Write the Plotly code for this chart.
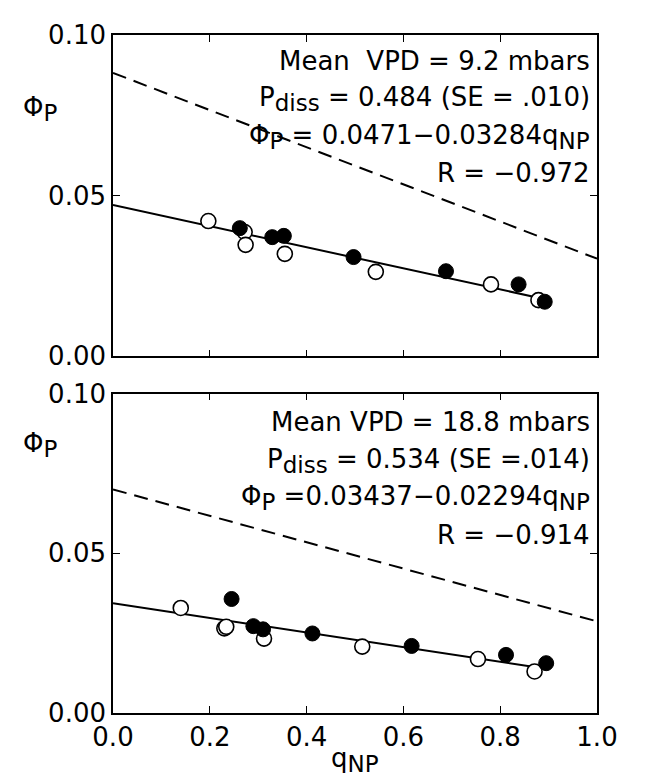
import plotly.graph_objects as go
from plotly.subplots import make_subplots

# ---------------- data ----------------
# Top panel (Mean VPD = 9.2 mbars)
top_open_x = [0.197, 0.272, 0.274, 0.355, 0.543, 0.781, 0.879]
top_open_y = [0.0421, 0.0387, 0.0347, 0.0319, 0.0263, 0.0224, 0.0175]
top_fill_x = [0.262, 0.329, 0.353, 0.497, 0.688, 0.838, 0.892]
top_fill_y = [0.0399, 0.0371, 0.0375, 0.0309, 0.0265, 0.0224, 0.0170]
top_fit = (0.0471, -0.03284)       # intercept, slope
top_fit_x = [0.0, 0.89]
top_dash_x = [0.0, 1.0]
top_dash_y = [0.0882, 0.0304]

# Bottom panel (Mean VPD = 18.8 mbars)
bot_open_x = [0.140, 0.230, 0.234, 0.312, 0.515, 0.754, 0.871]
bot_open_y = [0.0329, 0.0265, 0.0270, 0.0233, 0.0208, 0.0169, 0.0130]
bot_fill_x = [0.245, 0.290, 0.310, 0.412, 0.617, 0.812, 0.895]
bot_fill_y = [0.0357, 0.0272, 0.0262, 0.0249, 0.0210, 0.0182, 0.0156]
bot_fit = (0.03437, -0.02294)
bot_fit_x = [0.0, 0.895]
bot_dash_x = [0.0, 1.0]
bot_dash_y = [0.0700, 0.0287]

x_ticks = [0.0, 0.2, 0.4, 0.6, 0.8, 1.0]
x_ticklabels = ["0.0", "0.2", "0.4", "0.6", "0.8", "1.0"]
y_ticks = [0.0, 0.05, 0.10]
y_ticklabels = ["0.00", "0.05", "0.10"]

SUB = "<sub><span style='font-size:23px'>{}</span></sub>"
top_text = [
    "Mean  VPD = 9.2 mbars",
    "P" + SUB.format("diss") + " = 0.484 (SE = .010)",
    "Φ" + SUB.format("P") + " = 0.0471−0.03284q" + SUB.format("NP"),
    "R = −0.972",
]
bot_text = [
    "Mean VPD = 18.8 mbars",
    "P" + SUB.format("diss") + " = 0.534 (SE =.014)",
    "Φ" + SUB.format("P") + " =0.03437−0.02294q" + SUB.format("NP"),
    "R = −0.914",
]
top_text_y = [0.0920, 0.0802, 0.0684, 0.0570]
bot_text_y = [0.0910, 0.0790, 0.0672, 0.0556]
ylabel_y = [0.0770, 0.0840]

# ---------------- figure ----------------
FONT = "DejaVu Sans"
FS = 26
fig = make_subplots(rows=2, cols=1, vertical_spacing=0.0)

def add_panel(row, ox, oy, fx, fy, fit, fit_x, dx, dy, texts, ty, lab_y):
    yref = "y" if row == 1 else "y2"
    xref = "x" if row == 1 else "x2"
    fig.add_trace(go.Scatter(x=dx, y=dy, mode="lines",
                             line=dict(color="black", width=2, dash="14px,8px"),
                             showlegend=False, hoverinfo="skip"), row=row, col=1)
    fig.add_trace(go.Scatter(x=fit_x, y=[fit[0] + fit[1] * v for v in fit_x],
                             mode="lines", line=dict(color="black", width=2),
                             showlegend=False, hoverinfo="skip"), row=row, col=1)
    fig.add_trace(go.Scatter(x=ox, y=oy, mode="markers",
                             marker=dict(size=15, color="white",
                                         line=dict(color="black", width=1.6)),
                             showlegend=False), row=row, col=1)
    fig.add_trace(go.Scatter(x=fx, y=fy, mode="markers",
                             marker=dict(size=15, color="black",
                                         line=dict(color="black", width=1)),
                             showlegend=False), row=row, col=1)
    for t, yv in zip(texts, ty):
        fig.add_annotation(x=0.99, y=yv, xref=xref, yref=yref, text=t,
                           showarrow=False, xanchor="right", yanchor="middle",
                           font=dict(family=FONT, size=FS, color="black"))
    # horizontal y-axis label
    fig.add_annotation(x=-0.15, y=lab_y, xref="paper", yref=yref,
                       text="Φ" + SUB.format("P"), showarrow=False,
                       xanchor="center", yanchor="middle",
                       font=dict(family=FONT, size=FS, color="black"))

add_panel(1, top_open_x, top_open_y, top_fill_x, top_fill_y, top_fit, top_fit_x,
          top_dash_x, top_dash_y, top_text, top_text_y, ylabel_y[0])
add_panel(2, bot_open_x, bot_open_y, bot_fill_x, bot_fill_y, bot_fit, bot_fit_x,
          bot_dash_x, bot_dash_y, bot_text, bot_text_y, ylabel_y[1])

axis_common = dict(showline=True, linecolor="black", linewidth=1.6, mirror="ticks",
                   ticks="inside", ticklen=7, tickwidth=1.4, tickcolor="black",
                   showgrid=False, zeroline=False,
                   tickfont=dict(family=FONT, size=FS, color="black"))

fig.update_xaxes(range=[0, 1], tickvals=x_ticks, ticktext=x_ticklabels, **axis_common)
fig.update_yaxes(range=[0, 0.1], tickvals=y_ticks, ticktext=y_ticklabels, **axis_common)
fig.update_xaxes(showticklabels=False, row=1, col=1)

# x-axis title as annotation
fig.add_annotation(x=0.5, y=-0.070, xref="paper", yref="paper",
                   text="q" + SUB.format("NP"), showarrow=False,
                   xanchor="center", yanchor="middle",
                   font=dict(family=FONT, size=FS, color="black"))

# panel domains
fig.update_layout(yaxis=dict(domain=[0.526, 1.0]), yaxis2=dict(domain=[0.0, 0.471]))

# figure is offset by the page's default 8px body margin; compensate
fig.update_layout(width=647, height=768, plot_bgcolor="white", paper_bgcolor="white",
                  margin=dict(l=105, r=58, t=20, b=63),
                  font=dict(family=FONT, size=FS, color="black"))

fig.write_html("out.html")
